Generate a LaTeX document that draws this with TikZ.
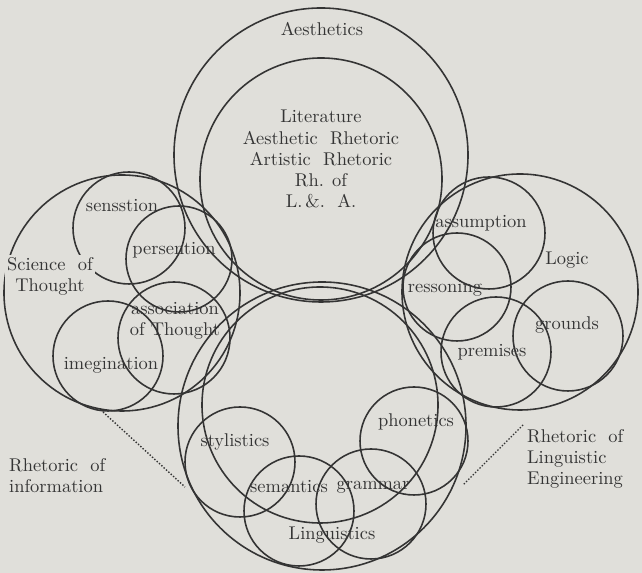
\documentclass[tikz,border=0pt]{standalone}
\usepackage{tikz}
\usetikzlibrary{positioning}

\definecolor{paper}{RGB}{224,223,218}
\definecolor{ink}{RGB}{52,52,52}

\begin{document}
\begin{tikzpicture}[
            x=0.02cm, y=0.02cm,
            every node/.append style={text=ink,font=\fontsize{10.5}{12}\selectfont,align=center},
            ring/.style={draw=ink,line width=0.9pt},
            guide/.style={draw=ink,densely dotted,line width=0.8pt}
        ]
            \fill[paper] (0,0) rectangle (642,573);
            \useasboundingbox (0,0) rectangle (642,573);

            % the four big fields
            \draw[ring] (321,418) circle (147);
            \draw[ring] (321,394) circle (121);
            \draw[ring] (122,280) circle (118);
            \draw[ring] (520,281) circle (118);
            \draw[ring] (322,147) circle (144);
            \draw[ring] (320,168) circle (118);

            % small circles
            \foreach \cx/\cy/\r in {129/345/56, 179/314/53, 174/235/56, 108/217/55,
                                    489/340/56, 457/286/54, 496/221/55, 568/237/55,
                                    414/132/54, 371/69/55, 299/62/55, 240/111/55}
                \draw[ring] (\cx,\cy) circle (\r);

            \node (aesth) at (322,544) {Aesthetics};
            \node (lit)   at (321,414) {Literature\\Aesthetic\ \ Rhetoric\\Artistic\ \ Rhetoric\\Rh. of\\L.\,\&.\ \ A.};

            \node[fill=paper,inner sep=1pt] (thought) at (50,297) {Science\ \ of\\Thought};
            \node (sens)  at (122,367) {sensstion};
            \node (pers)  at (174,323) {persention};
            \node (assoc) at (175,252) {association\\of Thought};
            \node (imeg)  at (111,208) {imegination};

            \node (logic) at (567,313) {Logic};
            \node (assum) at (481,350) {assumption};
            \node (reas)  at (445,285) {ressoning};
            \node (grnd)  at (567,248) {grounds};
            \node (prem)  at (492,221) {premises};

            \node (ling)  at (332,38)  {Linguistics};
            \node (styl)  at (235,131) {stylistics};
            \node (phon)  at (416,151) {phonetics};
            \node (sem)   at (289,86)  {semantics};
            \node (gram)  at (373,86)  {grammar};

            \node[anchor=west,align=left] (rinfo) at (3,97)   {Rhetoric\ \ of\\information};
            \node[anchor=west,align=left] (reng)  at (521,114) {Rhetoric\ \ of\\Linguistic\\Engineering};

            \coordinate (la) at (103,161);
            \coordinate (lb) at (185,86);
            \coordinate (ra) at (523,148);
            \coordinate (rb) at (463,88);
            \draw[guide] (la) -- (lb);
            \draw[guide] (ra) -- (rb);
        \end{tikzpicture}
\end{document}
